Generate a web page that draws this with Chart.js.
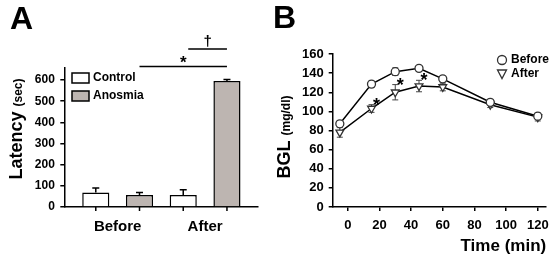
<!DOCTYPE html>
<html>
<head>
<meta charset="utf-8">
<script src="https://cdn.jsdelivr.net/npm/chart.js@4.4.1/dist/chart.umd.min.js"></script>
<style>
  html, body { margin: 0; padding: 0; background: #fff; }
  #wrap { position: relative; width: 556px; height: 261px; overflow: hidden; }
  #chartA { position: absolute; left: 0; top: 0; }
  #chartB { position: absolute; left: 268px; top: 0; }
</style>
</head>
<body>
<div id="wrap">
  <canvas id="chartA" width="268" height="261"></canvas>
  <canvas id="chartB" width="288" height="261"></canvas>
</div>
<script>
// panel A - latency bars
const groups = ["Before", "After"];
const controlMean = [68, 57];
const controlErr = [22, 25];
const anosmiaMean = [57, 596];
const anosmiaErr = [11, 7];
const latencyTicks = [0, 100, 200, 300, 400, 500, 600];

// panel B - blood glucose
const times = [-5, 15, 30, 45, 60, 90, 120];
const beforeBGL = [87, 128.5, 141.5, 145, 134, 109.5, 95];
const beforeErr = [3, 3, 4, 2, 2, 3, 3];
const afterBGL = [78, 103, 120, 126.5, 125.5, 107, 94];
const afterErr = [5, 4, 8, 6, 4, 3, 4];
const timeTicks = [0, 20, 40, 60, 80, 100, 120];
const bglTicks = [0, 20, 40, 60, 80, 100, 120, 140, 160];
const sigPoints = [1, 2, 3]; // after-curve points marked with *

const FONT = "'Liberation Sans', Arial, sans-serif";
const bold = (size) => ({ family: FONT, size: size, weight: "bold" });

function setTicks(values) {
  return (scale) => { scale.ticks = values.map((v) => ({ value: v })); };
}

function drawRotTitle(ctx, cx, cy, parts) {
  ctx.save();
  let total = 0;
  parts.forEach((p) => {
    ctx.font = "bold " + p.size + "px " + FONT;
    p.w = ctx.measureText(p.text).width;
    total += p.w;
  });
  ctx.translate(cx, cy);
  ctx.rotate(-Math.PI / 2);
  ctx.fillStyle = "#000";
  ctx.textBaseline = "alphabetic";
  ctx.textAlign = "left";
  let x = -total / 2;
  parts.forEach((p) => {
    ctx.font = "bold " + p.size + "px " + FONT;
    ctx.fillText(p.text, x, 6.5);
    x += p.w;
  });
  ctx.restore();
}

// error bars through the chart scales
const errorBars = {
  id: "errorBars",
  draw(chart, opts) {
    const ctx = chart.ctx;
    const y = chart.scales.y;
    ctx.save();
    chart.data.datasets.forEach((ds, di) => {
      const meta = chart.getDatasetMeta(di);
      ctx.strokeStyle = opts.color;
      ctx.lineWidth = opts.width;
      meta.data.forEach((el, i) => {
        const v = ds.data[i].y;
        const e = ds.errorBars[i];
        const top = y.getPixelForValue(v + e);
        const bot = opts.both ? y.getPixelForValue(v - e) : y.getPixelForValue(v);
        ctx.beginPath();
        ctx.moveTo(el.x, bot);
        ctx.lineTo(el.x, top);
        ctx.moveTo(el.x - opts.cap, top);
        ctx.lineTo(el.x + opts.cap, top);
        if (opts.both) {
          ctx.moveTo(el.x - opts.cap, bot);
          ctx.lineTo(el.x + opts.cap, bot);
        }
        ctx.stroke();
      });
    });
    ctx.restore();
  },
  afterDatasetsDraw(chart, args, opts) { if (!opts.both) this.draw(chart, opts); },
  beforeDatasetsDraw(chart, args, opts) { if (opts.both) this.draw(chart, opts); }
};

const panelA = {
  id: "panelA",
  afterDraw(chart) {
    const ctx = chart.ctx;
    const area = chart.chartArea;
    const ctrl = chart.getDatasetMeta(0).data;
    const anos = chart.getDatasetMeta(1).data;
    ctx.save();
    ctx.fillStyle = "#000";
    ctx.strokeStyle = "#000";
    ctx.lineWidth = 1.5;
    // small ticks under each bar
    [...ctrl, ...anos].forEach((el) => {
      ctx.beginPath();
      ctx.moveTo(el.x, area.bottom);
      ctx.lineTo(el.x, area.bottom + 4);
      ctx.stroke();
    });
    // significance lines
    const y1 = area.top - 1.5;
    const y2 = area.top - 19;
    ctx.beginPath();
    ctx.moveTo(anos[0].x, y1);
    ctx.lineTo(anos[1].x, y1);
    ctx.moveTo(ctrl[1].x + 5, y2);
    ctx.lineTo(anos[1].x, y2);
    ctx.stroke();
    ctx.textAlign = "center";
    ctx.textBaseline = "alphabetic";
    ctx.font = "bold 17px " + FONT;
    ctx.fillText("*", (anos[0].x + anos[1].x) / 2, y1 + 1.5);
    ctx.font = "bold 15px " + FONT;
    ctx.fillText("\u2020", (ctrl[1].x + 5 + anos[1].x) / 2, y2 - 3);
    // legend
    const items = [["Control", "#ffffff", 73], ["Anosmia", "#bdb5b1", 91]];
    ctx.textAlign = "left";
    ctx.textBaseline = "middle";
    ctx.font = "bold 12px " + FONT;
    items.forEach(([label, fill, top]) => {
      ctx.fillStyle = fill;
      ctx.fillRect(72, top, 17, 10);
      ctx.strokeRect(72, top, 17, 10);
      ctx.fillStyle = "#000";
      ctx.fillText(label, 93, top + 5);
    });
    // panel letter and axis title
    ctx.font = "bold 32px " + FONT;
    ctx.textBaseline = "alphabetic";
    ctx.fillText("A", 10, 29);
    ctx.restore();
    drawRotTitle(ctx, 15, 129, [{ text: "Latency ", size: 18 }, { text: "(sec)", size: 12 }]);
  }
};

const panelB = {
  id: "panelB",
  afterDraw(chart) {
    const ctx = chart.ctx;
    const xs = chart.scales.x;
    const ys = chart.scales.y;
    ctx.save();
    ctx.fillStyle = "#000";
    ctx.textAlign = "center";
    ctx.textBaseline = "alphabetic";
    ctx.font = "bold 18px " + FONT;
    sigPoints.forEach((i) => {
      const px = xs.getPixelForValue(times[i]) + 5;
      const py = ys.getPixelForValue(afterBGL[i] + afterErr[i]) - 4;
      ctx.fillText("*", px, py + 10);
    });
    // legend
    ctx.strokeStyle = "#333";
    ctx.lineWidth = 1.3;
    ctx.fillStyle = "#fff";
    ctx.beginPath();
    ctx.arc(234, 60, 4.5, 0, Math.PI * 2);
    ctx.fill();
    ctx.stroke();
    ctx.beginPath();
    ctx.moveTo(229.5, 70);
    ctx.lineTo(238.5, 70);
    ctx.lineTo(234, 78.5);
    ctx.closePath();
    ctx.fill();
    ctx.stroke();
    ctx.fillStyle = "#000";
    ctx.textAlign = "left";
    ctx.textBaseline = "middle";
    ctx.font = "bold 12px " + FONT;
    ctx.fillText("Before", 243, 60);
    ctx.fillText("After", 243, 74);
    ctx.font = "bold 32px " + FONT;
    ctx.textBaseline = "alphabetic";
    ctx.fillText("B", 5, 28);
    ctx.restore();
    drawRotTitle(ctx, 15.5, 137, [{ text: "BGL ", size: 18 }, { text: "(mg/dl)", size: 12 }]);
  }
};

const axisGrid = { drawOnChartArea: false, color: "#000", lineWidth: 1.5, tickLength: 4 };
const axisBorder = { color: "#000", width: 1.5 };

new Chart(document.getElementById("chartA"), {
  type: "bar",
  data: {
    datasets: [
      {
        label: "Control",
        data: groups.map((g, i) => ({ x: i, y: controlMean[i] })),
        errorBars: controlErr,
        backgroundColor: "#ffffff",
        borderColor: "#000",
        borderWidth: 1.5,
      },
      {
        label: "Anosmia",
        data: groups.map((g, i) => ({ x: i, y: anosmiaMean[i] })),
        errorBars: anosmiaErr,
        backgroundColor: "#bdb5b1",
        borderColor: "#000",
        borderWidth: 1.5,
      },
    ],
  },
  options: {
    responsive: false,
    animation: false,
    layout: { padding: { top: 68, right: 10, left: 0, bottom: 0 } },
    datasets: { bar: { categoryPercentage: 1, barPercentage: 0.62 } },
    plugins: {
      legend: { display: false },
      tooltip: { enabled: false },
      errorBars: { both: false, cap: 3.5, width: 1.5, color: "#000" },
    },
    scales: {
      x: {
        type: "linear",
        min: -0.61,
        max: 1.605,
        offset: false,
        afterBuildTicks: setTicks([0, 1]),
        afterFit: (s) => { s.height = 54; },
        grid: { ...axisGrid, tickColor: "rgba(0,0,0,0)" },
        border: axisBorder,
        ticks: { callback: (v) => groups[v], font: bold(15), color: "#000", padding: 7, maxRotation: 0, autoSkip: false },
      },
      y: {
        min: 0,
        max: 657,
        afterBuildTicks: setTicks(latencyTicks),
        afterFit: (s) => { s.width = 64.3; },
        grid: axisGrid,
        border: axisBorder,
        ticks: { font: bold(12), color: "#000", padding: 5.5 },
      },
    },
  },
  plugins: [errorBars, panelA],
});

new Chart(document.getElementById("chartB"), {
  type: "line",
  data: {
    datasets: [
      {
        label: "Before",
        data: times.map((t, i) => ({ x: t, y: beforeBGL[i] })),
        errorBars: beforeErr,
        borderColor: "#000",
        borderWidth: 1.5,
        pointStyle: "circle",
        pointRadius: 4,
        pointBackgroundColor: "#fff",
        pointBorderColor: "#333",
        pointBorderWidth: 1.3,
      },
      {
        label: "After",
        data: times.map((t, i) => ({ x: t, y: afterBGL[i] })),
        errorBars: afterErr,
        borderColor: "#000",
        borderWidth: 1.5,
        pointStyle: "triangle",
        rotation: 180,
        pointRadius: 4.5,
        pointBackgroundColor: "#fff",
        pointBorderColor: "#333",
        pointBorderWidth: 1.3,
      },
    ],
  },
  options: {
    responsive: false,
    animation: false,
    layout: { padding: { top: 54, right: 9.3, left: 0, bottom: 0 } },
    plugins: {
      legend: { display: false },
      tooltip: { enabled: false },
      errorBars: { both: true, cap: 3, width: 1, color: "#444" },
    },
    scales: {
      x: {
        type: "linear",
        min: -9.5,
        max: 125.3,
        afterBuildTicks: setTicks(timeTicks),
        afterFit: (s) => { s.height = 54; },
        grid: axisGrid,
        border: axisBorder,
        ticks: { font: bold(13), color: "#000", padding: 7, maxRotation: 0, autoSkip: false },
        title: { display: true, text: "Time (min)", align: "end", color: "#000", font: bold(17), padding: { top: 0, bottom: 4 } },
      },
      y: {
        min: 0,
        max: 160,
        afterBuildTicks: setTicks(bglTicks),
        afterFit: (s) => { s.width = 64.7; },
        grid: axisGrid,
        border: axisBorder,
        ticks: { font: bold(13), color: "#000", padding: 5 },
      },
    },
  },
  plugins: [errorBars, panelB],
});
</script>
</body>
</html>
